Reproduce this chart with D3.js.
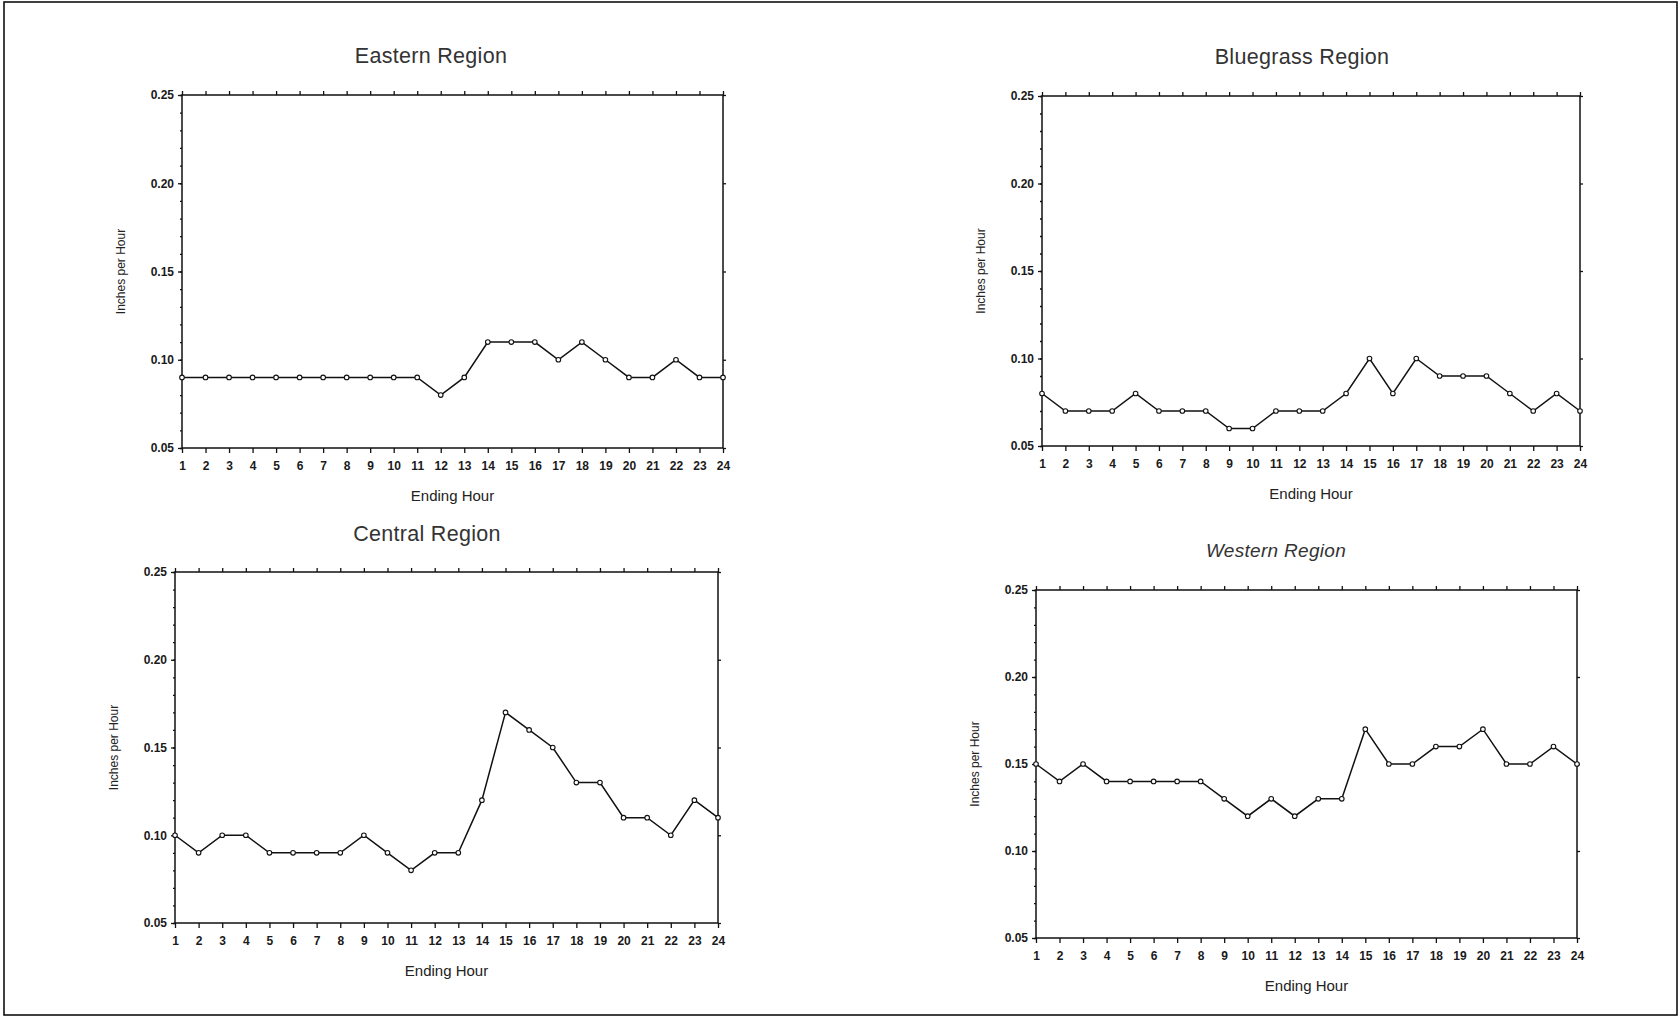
<!DOCTYPE html>
<meta charset="utf-8">
<html>
<head><title>inches per hour by region</title>
<script src="https://cdn.jsdelivr.net/npm/d3@7"></script>
<style>
    body { margin: 0; background: #fff; }
    .frame { fill: none; stroke: #111; stroke-width: 1.6; }
    .box { fill: none; stroke: #111; stroke-width: 1.5; }
    .axis path, .axis line { stroke: #111; stroke-width: 1.3; }
    .axis text { font-family: "Liberation Sans", Arial, sans-serif; font-size: 12px; font-weight: bold; fill: #1a1a1a; }
    .title { font-family: "Liberation Sans", Arial, sans-serif; font-size: 21.5px; fill: #333; letter-spacing: 0.3px; }
    .xlabel { font-family: "Liberation Sans", Arial, sans-serif; font-size: 15px; fill: #222; }
    .ylabel { font-family: "Liberation Sans", Arial, sans-serif; font-size: 12px; fill: #222; }
    .series { fill: none; stroke: #111; stroke-width: 1.5; }
    .dot { fill: #fff; stroke: #111; stroke-width: 1.1; }
</style>
<script>

    var hours = d3.range(1, 25);
    var yTicks = [0.05, 0.10, 0.15, 0.20, 0.25];

    var eastern   = [0.09,0.09,0.09,0.09,0.09,0.09,0.09,0.09,0.09,0.09,0.09,0.08,0.09,0.11,0.11,0.11,0.10,0.11,0.10,0.09,0.09,0.10,0.09,0.09];
    var bluegrass = [0.08,0.07,0.07,0.07,0.08,0.07,0.07,0.07,0.06,0.06,0.07,0.07,0.07,0.08,0.10,0.08,0.10,0.09,0.09,0.09,0.08,0.07,0.08,0.07];
    var central   = [0.10,0.09,0.10,0.10,0.09,0.09,0.09,0.09,0.10,0.09,0.08,0.09,0.09,0.12,0.17,0.16,0.15,0.13,0.13,0.11,0.11,0.10,0.12,0.11];
    var western   = [0.15,0.14,0.15,0.14,0.14,0.14,0.14,0.14,0.13,0.12,0.13,0.12,0.13,0.13,0.17,0.15,0.15,0.16,0.16,0.17,0.15,0.15,0.16,0.15];

    var titles = ["Eastern Region", "Bluegrass Region", "Central Region", "Western Region"];

    // panel boxes in page pixels (left, right, top, bottom, title x/y)
    var panels = [
        {l: 182, r: 723, t: 95, b: 448, tx: 431, ty: 63, vals: eastern},
        {l: 1042, r: 1580, t: 96, b: 446, tx: 1302, ty: 64, vals: bluegrass},
        {l: 175, r: 718, t: 572, b: 923, tx: 427, ty: 541, vals: central},
        {l: 1036, r: 1577, t: 590, b: 938, tx: 1276, ty: 557, vals: western, italic: true, fs: 19}
    ];

    function drawPanel(svg, p, title) {
        var x = d3.scaleLinear().domain([1, 24]).range([p.l, p.r]);
        var y = d3.scaleLinear().domain([0.05, 0.25]).range([p.b, p.t]);
        var g = svg.append("g");

        var t = g.append("text").attr("class", "title")
            .attr("x", p.tx).attr("y", p.ty)
            .attr("text-anchor", "middle")
            .style("font-style", p.italic ? "italic" : "normal")
            .text(title);
        if (p.fs) t.style("font-size", p.fs + "px");

        // box
        g.append("rect").attr("class", "box")
            .attr("x", p.l).attr("y", p.t)
            .attr("width", p.r - p.l).attr("height", p.b - p.t);

        // bottom axis
        g.append("g").attr("class", "axis")
            .attr("transform", "translate(0," + p.b + ")")
            .call(d3.axisBottom(x).tickValues(hours).tickSize(5).tickSizeOuter(0).tickPadding(8)
                .tickFormat(d3.format("d")))
            .call(function(a) { a.select(".domain").remove(); });

        // top ticks
        g.append("g").attr("class", "axis")
            .attr("transform", "translate(0," + p.t + ")")
            .call(d3.axisTop(x).tickValues(hours).tickSize(4).tickFormat(""))
            .call(function(a) { a.select(".domain").remove(); });

        // left axis
        g.append("g").attr("class", "axis")
            .attr("transform", "translate(" + p.l + ",0)")
            .call(d3.axisLeft(y).tickValues(yTicks).tickSize(4).tickPadding(4)
                .tickFormat(d3.format(".2f")))
            .call(function(a) { a.select(".domain").remove(); });

        // minor ticks left
        g.append("g").attr("class", "axis")
            .attr("transform", "translate(" + p.l + ",0)")
            .call(d3.axisLeft(y).ticks(20).tickSize(2).tickFormat(""))
            .call(function(a) { a.select(".domain").remove(); });

        // right ticks
        g.append("g").attr("class", "axis")
            .attr("transform", "translate(" + p.r + ",0)")
            .call(d3.axisRight(y).tickValues(yTicks).tickSize(3).tickFormat(""))
            .call(function(a) { a.select(".domain").remove(); });

        g.append("text").attr("class", "xlabel")
            .attr("x", (p.l + p.r) / 2).attr("y", p.b + 53)
            .attr("text-anchor", "middle").text("Ending Hour");

        g.append("text").attr("class", "ylabel")
            .attr("transform", "translate(" + (p.l - 57) + "," + ((p.t + p.b) / 2) + ") rotate(-90)")
            .attr("text-anchor", "middle").text("Inches per Hour");

        var line = d3.line().x(function(d, i) { return x(hours[i]); }).y(function(d) { return y(d); });

        g.append("path").datum(p.vals).attr("class", "series").attr("d", line);

        g.selectAll(".dot").data(p.vals).enter().append("circle")
            .attr("class", "dot")
            .attr("cx", function(d, i) { return x(hours[i]); })
            .attr("cy", function(d) { return y(d); })
            .attr("r", 2.3);
    }

    function init() {
        var svg = d3.select("#chart").append("svg")
            .attr("width", 1680).attr("height", 1018);

        svg.append("rect").attr("class", "frame")
            .attr("x", 4).attr("y", 2).attr("width", 1673).attr("height", 1013);

        panels.forEach(function(p, i) { drawPanel(svg, p, titles[i]); });
    }

</script>
</head>
<body onload="init()">
<div id="chart"></div>
</body>
</html>
